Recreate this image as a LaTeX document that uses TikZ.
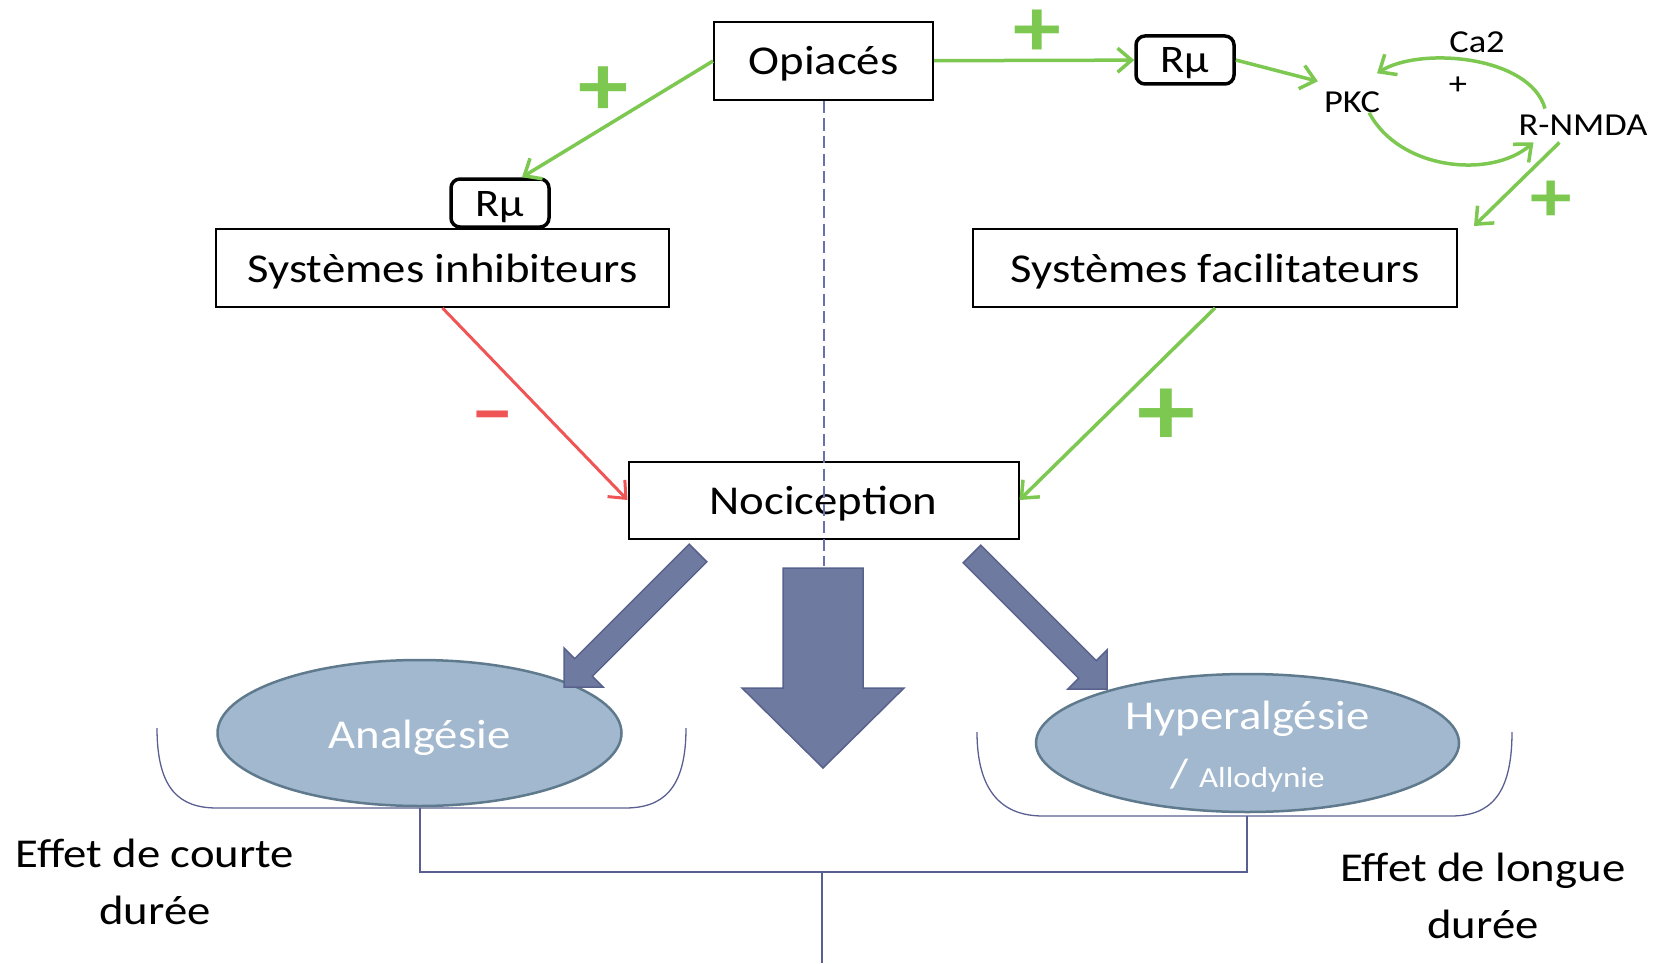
\documentclass[tikz,border=0pt]{standalone}
\usepackage{fontspec}
\setmainfont{Carlito}[FakeStretch=1.14]
\usetikzlibrary{arrows.meta,shapes.geometric}
\definecolor{vert}{RGB}{125,200,80}
\definecolor{rouge}{RGB}{240,85,85}
\definecolor{bloc}{RGB}{111,122,160}
\definecolor{blocbord}{RGB}{88,98,140}
\definecolor{ellfond}{RGB}{162,184,207}
\definecolor{ellbord}{RGB}{95,122,140}
\definecolor{trait}{RGB}{90,95,145}
\definecolor{tiret}{RGB}{105,112,170}

\begin{document}
\begin{tikzpicture}[x=1pt,y=-1pt,
  boite/.style={draw,line width=2pt,fill=white,minimum height=78pt,inner sep=0pt,text height=30pt,text depth=2pt,font=\fontsize{41}{50}\selectfont},
  recep/.style={draw,line width=3.5pt,rounded corners=9pt,fill=white,minimum width=98pt,minimum height=48pt,inner sep=0pt,text height=26pt,text depth=0pt,font=\fontsize{39}{46}\selectfont},
  petit/.style={inner sep=0pt,font=\fontsize{32}{38}\selectfont},
  effet/.style={ellipse,draw=ellbord,line width=2.5pt,fill=ellfond,inner sep=0pt},
  blanc/.style={inner sep=0pt,text=white,align=center,font=\fontsize{41}{58}\selectfont},
  legende/.style={inner sep=0pt,align=center,font=\fontsize{41}{57}\selectfont},
  signe/.style={inner sep=0pt,font=\bfseries\fontsize{#1}{#1}\selectfont},
  activ/.style={draw=vert,line width=3.5pt,-{Straight Barb[length=14pt,width=24pt]}},
  inhib/.style={draw=rouge,line width=3pt,-{Straight Barb[length=14pt,width=24pt]}},
  fleche/.style={fill=bloc,draw=blocbord,line width=1.5pt},
  accol/.style={draw=trait,line width=1.3pt}]
\useasboundingbox (0,0) rectangle (1661,963);

% boites
\node[boite,minimum width=219pt] (opi) at (823.5,61) {Opiacés};
\node[recep] (rmd) at (1185,60) {Rμ};
\node[recep] (rmg) at (500,203) {Rμ};
\node[boite,minimum width=453pt] (inh) at (442.5,268) {Systèmes inhibiteurs};
\node[boite,minimum width=484pt] (fac) at (1215,268) {Systèmes facilitateurs};
\node[boite,minimum width=390pt,minimum height=77pt] (noc) at (823.5,500) {Nociception};

% boucle PKC / R-NMDA
\node[petit] (pkc) at (1352,102) {PKC};
\node[petit] (ca) at (1477,42) {Ca2};
\node[petit] (pl) at (1458,86) {+};
\node[petit] (nmda) at (1583,125) {R-NMDA};

% signes
\node[signe=84,text=vert] (p1) at (1037,33) {+};
\node[signe=88,text=vert] (p2) at (603,91) {+};
\node[signe=102,text=vert] (p3) at (1166,417) {+};
\node[signe=73,text=vert] (p4) at (1551,201) {+};
\node[signe=78,text=rouge] (m1) at (493,424) {--};

\draw[activ] (opi) -- (rmd);
\draw[activ] (opi.west) -- ([xshift=22pt]rmg.north);
\draw[activ] (rmd.east) -- ([xshift=-6pt,yshift=10pt]pkc.north west);
\draw[activ] ([xshift=-38pt,yshift=6pt]nmda.north) .. controls +(-15,-53) and +(43,-27) .. ([xshift=25pt,yshift=18pt]pkc.north);
\draw[activ] ([xshift=-11pt]pkc.south east) .. controls +(30,57) and +(-43,37) .. ([xshift=15pt,yshift=-7pt]nmda.south west);
\draw[activ] ([xshift=41pt,yshift=-7pt]nmda.south west) -- ([xshift=16pt,yshift=2pt]fac.north east);
\draw[inhib] (inh.south) -- (noc.west);
\draw[activ] (fac.south) -- (noc.east);

% accolades et arbre
\draw[accol] (157,728) .. controls (157,790) and (180,808) .. (217,808) -- (625,808) .. controls (662,808) and (686,790) .. (686,728);
\draw[accol] (977,732) .. controls (977,795) and (1005,816) .. (1043,816) -- (1451,816) .. controls (1490,816) and (1512,795) .. (1512,732);
\coordinate (ga) at (420,808);
\coordinate (dr) at (1247,816);
\coordinate (mi) at (822,872);
\coordinate (ba) at (822,963);
\draw[accol] (ga) |- (mi) -| (dr);
\draw[accol] (mi) -- (ba);

% effets
\node[effet,minimum width=404pt,minimum height=146pt] (ana) at (419.5,733) {};
\node[blanc,text height=31pt,text depth=0pt] (anat) at (419.5,733) {Analgésie};
\node[effet,minimum width=423pt,minimum height=138pt] (hyp) at (1247.5,743) {};
\node[blanc] (hypt) at (1247.5,747) {Hyperalgésie\\/ {\fontsize{29}{36}\selectfont Allodynie}};
\node[legende] (cou) at (155,882) {Effet de courte\\durée};
\node[legende] (lon) at (1483,896) {Effet de longue\\durée};

% grosses fleches
\filldraw[fleche] (689.2,544.2) -- (706.8,561.8) -- (592.3,676.3) -- (603,687) -- (564,687) -- (564,648) -- (574.7,658.7) -- cycle;
\filldraw[fleche] (783,568) -- (863,568) -- (863,688) -- (904,688) -- (823,768) -- (742,688) -- (783,688) -- cycle;
\filldraw[fleche] (963.2,562.8) -- (980.8,545.2) -- (1096.3,660.7) -- (1107,650) -- (1107,689) -- (1068,689) -- (1078.7,678.3) -- cycle;

\coordinate (fin) at (823.5,566);
\draw[tiret,line width=2pt,dash pattern=on 12pt off 5.5pt] (opi.south) -- (fin);
\end{tikzpicture}
\end{document}
